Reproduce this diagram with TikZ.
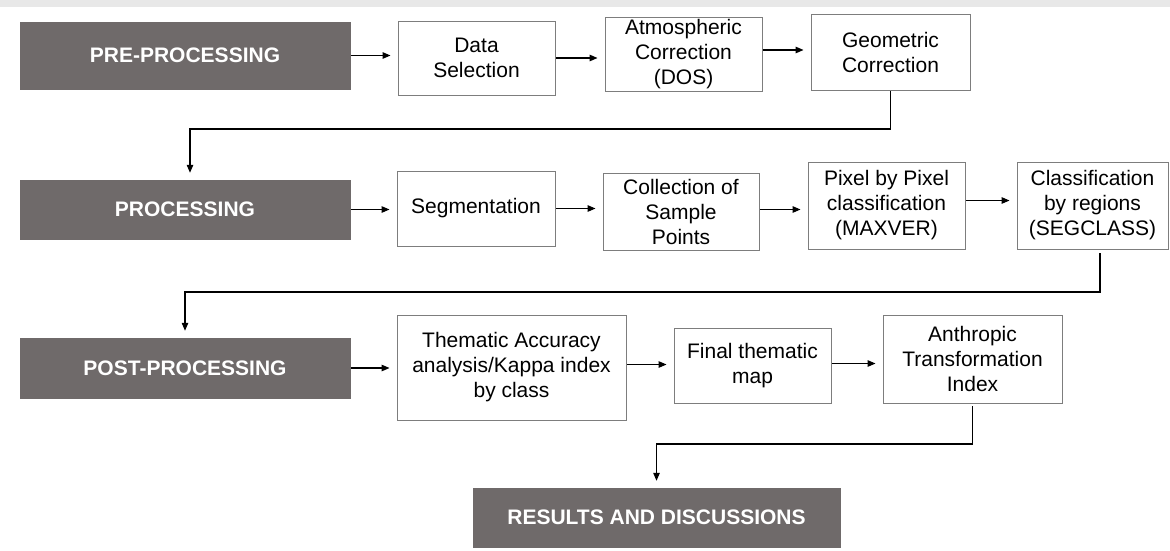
\documentclass[tikz,border=0pt]{standalone}
\usepackage{fontspec}
\setmainfont{Liberation Sans}
\usepackage{tikz}
\usetikzlibrary{arrows.meta,positioning,calc}
\definecolor{stagegray}{RGB}{111,106,106}
\definecolor{boxline}{RGB}{125,125,125}

\begin{document}
\begin{tikzpicture}[x=1pt,y=-1pt,
    stage/.style={fill=stagegray, draw=stagegray, text=white, minimum width=330pt,
        inner sep=0pt, font=\fontsize{21}{25}\selectfont\bfseries},
    task/.style={draw=boxline, line width=0.9pt, fill=white, align=center,
        inner sep=0pt, font=\fontsize{21}{25}\selectfont},
    flow/.style={-{Triangle[length=8pt,width=6.5pt]}, line width=1.1pt,
        shorten >=7pt, shorten <=1pt}
]
    \useasboundingbox (0,0) rectangle (1170,551);
    \fill[white] (0,0) rectangle (1170,551);
    \fill[black!9] (0,0) rectangle (1170,7);

    % Stages
    \node[stage, minimum height=67pt] (pre) at (185,55.5) {PRE-PROCESSING};
    \node[stage, minimum height=59pt] (proc) at (185,209.5) {PROCESSING};
    \node[stage, minimum height=60pt] (post) at (185,368) {POST-PROCESSING};
    \node[stage, minimum width=367pt, minimum height=59pt] (results) at (656.5,517.5) {RESULTS AND DISCUSSIONS};

    % Pre-processing steps
    \node[task, minimum width=157pt, minimum height=74pt] (datasel) at (476.5,58) {Data\\Selection};
    \node[task, minimum width=157pt, minimum height=74pt] (atmos) at (683.5,54) {Atmospheric\\Correction\\(DOS)};
    \node[task, minimum width=159pt, minimum height=76pt] (geo) at (890.5,52) {Geometric\\Correction};

    % Processing steps
    \node[task, minimum width=158pt, minimum height=75pt] (seg) at (476,208.5) {Segmentation};
    \node[task, minimum width=156pt, minimum height=77pt] (coll) at (681,211.5) {Collection of\\Sample\\Points};
    \node[task, minimum width=157pt, minimum height=87pt] (pixel) at (886.5,205.5) {Pixel by Pixel\\classification\\(MAXVER)};
    \node[task, minimum width=151pt, minimum height=87pt] (classif) at (1092.5,205.5) {Classification\\by regions\\(SEGCLASS)};

    % Post-processing steps
    \node[task, minimum width=229pt, minimum height=105pt] (thematic) at (511.5,367.5) {Thematic Accuracy\\analysis/Kappa index\\by class};
    \node[task, minimum width=157pt, minimum height=75pt] (finalmap) at (752.5,365.5) {Final thematic\\map};
    \node[task, minimum width=179pt, minimum height=88pt] (anthro) at (972.5,359) {Anthropic\\Transformation\\Index};

    % Bends of the return lines
    \coordinate (bend1) at (600,129);
    \coordinate (bend2) at (600,292);
    \coordinate (bend3) at (800,444);
    \coordinate (drop2) at (1100,0);

    % Row 1
    \draw[flow] (pre.east) -- (pre.east -| datasel.west);
    \draw[flow] (datasel.east) -- (datasel.east -| atmos.west);
    \draw[flow] ([yshift=4pt]atmos.east) -- ([yshift=4pt]atmos.east -| geo.west);
    \draw[flow] (geo.south) |- (bend1) -| ([xshift=5pt]proc.north);

    % Row 2
    \draw[flow] (proc.east) -- (proc.east -| seg.west);
    \draw[flow] (seg.east) -- (seg.east -| coll.west);
    \draw[flow] ([yshift=2pt]coll.east) -- ([yshift=2pt]coll.east -| pixel.west);
    \draw[flow] ([yshift=5pt]pixel.east) -- ([yshift=5pt]pixel.east -| classif.west);
    \draw[flow] ([yshift=-3pt]classif.south -| drop2) |- (bend2) -| (post.north);

    % Row 3
    \draw[flow] (post.east) -- (post.east -| thematic.west);
    \draw[flow] ([yshift=3pt]thematic.east) -- ([yshift=3pt]thematic.east -| finalmap.west);
    \draw[flow] ([yshift=2pt]finalmap.east) -- ([yshift=2pt]finalmap.east -| anthro.west);
    \draw[flow] ([yshift=-2pt]anthro.south) |- (bend3) -| (results.north);
\end{tikzpicture}
\end{document}
